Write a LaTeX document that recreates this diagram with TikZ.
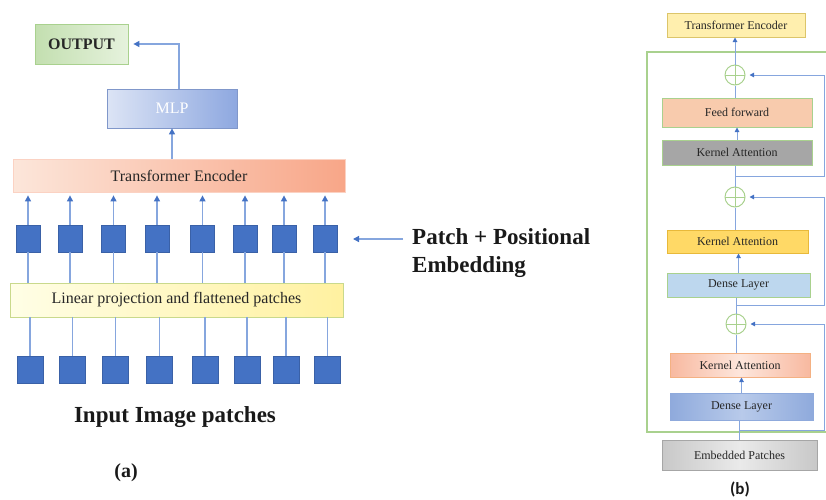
\documentclass[tikz,border=0pt]{standalone}
\usepackage{fontspec}
\setmainfont{Liberation Serif}
\newfontfamily\calib{Carlito}
\usepackage{xcolor}
\usepackage{tikz}
\usetikzlibrary{positioning,arrows.meta,calc}

\definecolor{patchblue}{HTML}{4472C4}
\definecolor{lineblue}{HTML}{86A6DE}
\definecolor{lgreen}{HTML}{A9D18E}
\definecolor{outL}{HTML}{C3DFB0}
\definecolor{outR}{HTML}{E6F2DD}
\definecolor{mlpL}{HTML}{DCE4F5}
\definecolor{mlpR}{HTML}{8EA8E0}
\definecolor{encL}{HTML}{FCE6DA}
\definecolor{encR}{HTML}{F8A688}
\definecolor{projL}{HTML}{FFFEE6}
\definecolor{projR}{HTML}{FFF1A0}
\definecolor{projD}{HTML}{C9D98C}
\definecolor{teY}{HTML}{FFEFAE}
\definecolor{teD}{HTML}{DCC56A}
\definecolor{ffS}{HTML}{F8CBAD}
\definecolor{kaG}{HTML}{A6A6A6}
\definecolor{kaY}{HTML}{FFD966}
\definecolor{kaYD}{HTML}{E8B93A}
\definecolor{dlL}{HTML}{BDD7EE}
\definecolor{kaS}{HTML}{F8B9A0}
\definecolor{kaSM}{HTML}{FDE6DC}
\definecolor{kaSD}{HTML}{F4B183}
\definecolor{dlB}{HTML}{8FAADC}
\definecolor{dlBM}{HTML}{B8CAEA}
\definecolor{epG}{HTML}{C8C8C8}
\definecolor{epM}{HTML}{EAEAEA}

\begin{document}
\begin{tikzpicture}[
    x=1pt, y=-1pt,
    base_box/.style={draw, inner sep=0pt, text centered, text=black!85},
    left_box/.style={base_box, line width=0.8pt, font=\fontsize{16}{18}\selectfont},
    right_box/.style={base_box, line width=1pt, font=\fontsize{12}{14}\selectfont},
    out_fill/.style={draw=lgreen, left color=outL, right color=outR},
    mlp_fill/.style={draw=mlpR!90!black, left color=mlpL, right color=mlpR},
    enc_fill/.style={draw=encR!50, left color=encL, right color=encR},
    proj_fill/.style={draw=projD, left color=projL, right color=projR},
    patch_sq/.style={fill=patchblue, draw=patchblue!85!black, line width=0.4pt, inner sep=0pt},
    big_lbl/.style={font=\bfseries\fontsize{23}{28}\selectfont, text=black!90},
    sum_node/.style={circle, draw=lgreen, line width=1pt, minimum size=20pt, inner sep=0pt,
        path picture={\draw [lgreen, line width=1pt]
            (path picture bounding box.north) -- (path picture bounding box.south)
            (path picture bounding box.west) -- (path picture bounding box.east);}},
    frame_line/.style={draw=lgreen, line width=1.2pt},
    arrow/.style={draw=lineblue, line width=1.3pt, -{Triangle[length=6pt, width=6pt, color=patchblue]}},
    link/.style={draw=lineblue, line width=1.3pt},
    rarrow/.style={arrow, line width=1pt, -{Triangle[length=4.5pt, width=4.5pt, color=patchblue]}},
    rlink/.style={link, line width=1pt}
]
\useasboundingbox (0,0) rectangle (826,499);

% (a) vision transformer
\node (out)  [left_box, out_fill, minimum width=93pt, minimum height=40pt] at (81.5,44) {\bfseries OUTPUT};
\node (mlp)  [left_box, mlp_fill, minimum width=130pt, minimum height=39pt, text=white] at (172,108.5) {MLP};
\node (enc)  [left_box, enc_fill, minimum width=332pt, minimum height=33pt] at (179,175.5) {Transformer Encoder};
\node (proj) [left_box, proj_fill, minimum width=333pt, minimum height=34pt] at (176.5,300) {Linear projection and flattened patches};

\foreach \i/\x in {1/28,2/70,3/113.5,4/157,5/202.5,6/245,7/284,8/325}{
    \node (emb\i) [patch_sq, minimum width=24pt, minimum height=27pt] at (\x,238.5) {};
    \draw [arrow, shorten >=3pt] (emb\i.north) -- (emb\i.north |- enc.south);
    \draw [link] (emb\i.south |- proj.north) -- (emb\i.south);
}
\foreach \i/\x in {1/30,2/72.5,3/115.5,4/159.5,5/205,6/247,7/286,8/327.5}{
    \node (img\i) [patch_sq, minimum width=26pt, minimum height=27pt] at (\x,369.5) {};
    \draw [link] (img\i.north) -- (img\i.north |- proj.south);
}

\draw [arrow] (mlp.south |- enc.north) -- (mlp.south);
\draw [arrow, shorten >=5pt] ([xshift=7pt]mlp.north) |- (out.east);

\node (pe) [big_lbl, align=left, anchor=west, inner xsep=9pt, inner ysep=0pt] at (403,252.7)
    {Patch + Positional\\Embedding};
\coordinate (pe_tip) at (353,239);
\draw [arrow] (pe.west |- pe_tip) -- (pe_tip);

\node (inp)   [big_lbl] at (175,417) {Input Image patches};
\node (lbl_a) [big_lbl, font=\bfseries\fontsize{20}{24}\selectfont] at (126,473) {(a)};

% (b) encoder block
\draw [frame_line] (826,52) -- (647,52) -- (647,432) -- (826,432);

\node (te)  [right_box, fill=teY, draw=teD, minimum width=138pt, minimum height=24pt] at (736,25) {Transformer Encoder};
\node (c1)  [sum_node] at (735,75) {};
\node (ff)  [right_box, fill=ffS, draw=lgreen, minimum width=150pt, minimum height=29pt] at (737,112.5) {Feed forward};
\node (ka1) [right_box, fill=kaG, draw=lgreen, minimum width=150pt, minimum height=25pt] at (737,152.5) {Kernel Attention};
\node (c2)  [sum_node] at (735,197) {};
\node (ka2) [right_box, fill=kaY, draw=kaYD, minimum width=141pt, minimum height=23pt] at (737.5,241.5) {Kernel Attention};
\node (dl1) [right_box, fill=dlL, draw=lgreen, minimum width=143pt, minimum height=24pt] at (738.5,285) {Dense Layer};
\node (c3)  [sum_node] at (736,324) {};
\node (ka3) [right_box, left color=kaS, right color=kaS, middle color=kaSM, draw=kaSD, minimum width=140pt, minimum height=24pt] at (740,365) {Kernel Attention};
\node (dl2) [right_box, left color=dlB, right color=dlB, middle color=dlBM, draw=dlB, minimum width=143pt, minimum height=27pt] at (741.5,406.5) {Dense Layer};
\node (ep)  [right_box, left color=epG, right color=epG, middle color=epM, draw=kaG, minimum width=155pt, minimum height=30pt] at (739.5,455) {Embedded Patches};

\draw [rarrow] (c1.north) -- (c1.north |- te.south);
\draw [rlink]  (c1.south) -- (c1.south |- ff.north);
\draw [rarrow] (ka1.north) -- (ka1.north |- ff.south);
\draw [rlink]  (c2.north) -- (c2.north |- ka1.south);
\draw [rlink]  (c2.south) -- (c2.south |- ka2.north);
\draw [rarrow] (dl1.north) -- (dl1.north |- ka2.south);
\draw [rlink]  (c3.north) -- (c3.north |- dl1.south);
\draw [rlink]  (c3.south) -- (c3.south |- ka3.north);
\draw [rarrow] (dl2.north) -- (dl2.north |- ka3.south);
\draw [rlink]  (ep.north) -- (ep.north |- dl2.south);

% residual paths
\coordinate (rail) at (824,0);
\coordinate (br1) at ($(c2.north)!0.5!(c2.north |- ka1.south)$);
\coordinate (br2) at ($(c3.north)!0.5!(c3.north |- dl1.south)$);
\coordinate (br3) at ($(ep.north)!0.5!(ep.north |- dl2.south)$);
\draw [rarrow, shorten >=4pt] (br1) -- (br1 -| rail) |- (c1.east);
\draw [rarrow, shorten >=4pt] (br2) -- (br2 -| rail) |- (c2.east);
\draw [rarrow, shorten >=4pt] (br3) -- (br3 -| rail) |- (c3.east);

\node (lbl_b) [font=\calib\bfseries\fontsize{17}{20}\selectfont, text=black!90] at (740,489) {(b)};

\end{tikzpicture}
\end{document}
